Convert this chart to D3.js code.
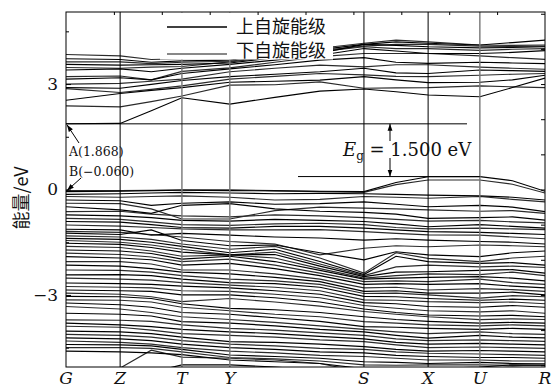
<!DOCTYPE html>
<html>
<head>
<meta charset="utf-8">
<script src="https://cdn.jsdelivr.net/npm/d3@7/dist/d3.min.js"></script>
<style>
  body { margin: 0; background: #fff; }
  svg { display: block; }
</style>
</head>
<body>
<svg id="chart"></svg>
<script>
// k-path: G Z (Z-T) T Y (Y-S) (Y-S) S (S-X) X U (U-R) R
const kPath = [0, 0.113, 0.178, 0.242, 0.342, 0.436, 0.530, 0.622, 0.689, 0.756, 0.864, 0.932, 1.0]
const kLabels = ["G", "Z", "T", "Y", "S", "X", "U", "R"]
const kLabelIndex = [0, 1, 3, 4, 7, 9, 10, 12]
const yTickLabels = [-3, 0, 3]
const yMinorTicks = [-4.5, -1.5, 1.5, 4.5]
const yRightTicks = [-5, -4, -3, -2, -1, 0, 1, 2, 3, 4, 5]

const cbmValue = 1.868
const vbmValue = 0.368
const gapValue = 1.500
const pointB = -0.060

// conduction bands, spin up
const conductionUp = [
    [1.87, 1.88, 2.24, 2.61, 2.43, 2.62, 2.80, 2.86, 2.78, 2.69, 2.64, 2.90, 3.17],
    [2.54, 2.73, 2.82, 2.90, 3.05, 3.08, 3.11, 3.21, 3.12, 3.04, 3.05, 3.12, 3.25],
    [2.90, 2.88, 2.99, 3.10, 3.21, 3.28, 3.35, 3.45, 3.32, 3.30, 3.40, 3.38, 3.36],
    [3.14, 3.18, 3.12, 3.30, 3.43, 3.55, 3.68, 3.75, 3.62, 3.59, 3.62, 3.60, 3.58],
    [3.40, 3.43, 3.35, 3.45, 3.56, 3.68, 3.82, 4.01, 3.94, 3.87, 3.87, 3.90, 3.95],
    [3.56, 3.54, 3.55, 3.56, 3.60, 3.75, 3.88, 4.13, 4.10, 4.06, 4.03, 4.04, 4.06],
    [3.72, 3.70, 3.62, 3.66, 3.68, 3.85, 3.98, 4.13, 4.20, 4.16, 4.11, 4.18, 4.25]
]
// conduction bands, spin down
const conductionDown = [
    [2.38, 2.35, 2.50, 2.66, 2.97, 2.98, 3.06, 2.88, 2.89, 2.90, 2.95, 2.92, 2.90],
    [2.87, 2.76, 2.85, 2.95, 3.14, 3.22, 3.30, 3.26, 3.22, 3.21, 3.25, 3.28, 3.30],
    [3.00, 3.02, 3.08, 3.14, 3.35, 3.45, 3.54, 3.49, 3.55, 3.55, 3.48, 3.45, 3.42],
    [3.21, 3.23, 3.12, 3.36, 3.46, 3.62, 3.78, 3.87, 3.87, 3.87, 3.80, 3.75, 3.70],
    [3.47, 3.45, 3.48, 3.50, 3.63, 3.78, 3.92, 4.06, 4.01, 4.01, 3.96, 3.99, 4.01],
    [3.63, 3.63, 3.58, 3.62, 3.65, 3.80, 3.95, 4.08, 4.13, 4.13, 4.08, 4.07, 4.08],
    [3.84, 3.80, 3.70, 3.72, 3.72, 3.88, 4.02, 4.16, 4.25, 4.20, 4.11, 4.10, 4.11]
]
// valence bands, spin up
const valenceUp = [
    [-0.06, -0.05, -0.03, -0.02, -0.03, -0.04, -0.05, -0.06, 0.20, 0.364, 0.368, 0.25, -0.05],
    [-0.14, -0.12, -0.10, -0.08, -0.10, -0.12, -0.11, -0.12, -0.14, -0.16, -0.18, -0.22, -0.30],
    [-0.30, -0.32, -0.45, -0.39, -0.35, -0.42, -0.40, -0.35, -0.42, -0.49, -0.45, -0.50, -0.63],
    [-0.49, -0.58, -0.68, -0.45, -0.40, -0.55, -0.62, -0.65, -0.70, -0.82, -0.80, -0.78, -0.87],
    [-0.72, -0.75, -0.80, -0.88, -0.90, -0.85, -0.88, -0.91, -0.98, -1.06, -1.00, -1.05, -1.10],
    [-0.91, -0.93, -1.00, -1.08, -1.10, -1.05, -1.05, -1.10, -1.15, -1.20, -1.22, -1.25, -1.28],
    [-1.13, -1.15, -1.30, -1.25, -1.30, -1.35, -1.38, -1.44, -1.40, -1.44, -1.48, -1.50, -1.55],
    [-1.24, -1.28, -1.15, -1.45, -1.60, -1.58, -1.80, -2.00, -1.77, -1.86, -1.91, -1.80, -1.75],
    [-1.39, -1.42, -1.50, -1.62, -1.80, -1.70, -2.05, -2.42, -1.90, -2.05, -2.10, -2.08, -2.15],
    [-1.53, -1.56, -1.65, -1.78, -1.86, -1.85, -2.18, -2.48, -2.35, -2.34, -2.30, -2.28, -2.38],
    [-1.72, -1.75, -1.82, -1.98, -1.90, -2.05, -2.30, -2.55, -2.52, -2.50, -2.48, -2.52, -2.60],
    [-1.91, -1.95, -2.00, -2.15, -2.10, -2.25, -2.45, -2.70, -2.68, -2.70, -2.68, -2.75, -2.80],
    [-2.15, -2.18, -2.25, -2.35, -2.40, -2.50, -2.62, -2.90, -2.88, -2.95, -2.95, -2.92, -3.00],
    [-2.43, -2.42, -2.45, -2.55, -2.65, -2.68, -2.78, -3.04, -3.05, -3.10, -3.15, -3.12, -3.15],
    [-2.66, -2.68, -2.70, -2.75, -2.80, -2.88, -2.98, -3.22, -3.25, -3.33, -3.35, -3.30, -3.35],
    [-2.86, -2.88, -2.90, -3.00, -3.00, -3.08, -3.20, -3.40, -3.50, -3.57, -3.60, -3.58, -3.62],
    [-3.04, -3.05, -3.10, -3.25, -3.38, -3.42, -3.50, -3.62, -3.70, -3.75, -3.80, -3.78, -3.80],
    [-3.23, -3.28, -3.35, -3.50, -3.55, -3.65, -3.75, -3.90, -3.92, -3.95, -3.98, -3.95, -3.98],
    [-3.52, -3.55, -3.60, -3.76, -3.80, -3.88, -3.98, -4.05, -4.15, -4.23, -4.15, -4.20, -4.22],
    [-3.80, -3.85, -3.90, -3.98, -4.05, -4.10, -4.18, -4.25, -4.35, -4.40, -4.38, -4.40, -4.42],
    [-4.03, -4.05, -4.10, -4.20, -4.33, -4.35, -4.40, -4.47, -4.55, -4.60, -4.58, -4.60, -4.62],
    [-4.22, -4.25, -4.30, -4.40, -4.50, -4.55, -4.62, -4.65, -4.72, -4.75, -4.78, -4.78, -4.80],
    [-4.41, -4.42, -4.45, -4.55, -4.71, -4.75, -4.80, -4.90, -4.92, -4.95, -4.92, -4.95, -4.96],
    [-4.60, -4.62, -4.65, -4.70, -4.85, -4.90, -4.95, -5.10, -5.10, -5.10, -5.05, -4.99, -5.00],
    [-5.60, -5.40, -5.20, -4.99, -4.99, -5.05, -5.15, -5.30, -5.30, -5.25, -5.20, -5.15, -5.20]
]
// valence bands, spin down
const valenceDown = [
    [-0.03, -0.03, -0.02, -0.01, -0.01, -0.03, -0.06, -0.08, 0.14, 0.27, 0.27, 0.15, -0.10],
    [-0.20, -0.22, -0.20, -0.18, -0.22, -0.30, -0.28, -0.20, -0.22, -0.25, -0.20, -0.28, -0.35],
    [-0.39, -0.40, -0.55, -0.84, -0.84, -0.60, -0.50, -0.53, -0.55, -0.58, -0.62, -0.60, -0.68],
    [-0.63, -0.62, -0.70, -0.75, -0.78, -0.72, -0.75, -0.80, -0.85, -0.90, -0.88, -0.92, -0.95],
    [-0.82, -0.85, -0.92, -1.00, -1.02, -0.98, -0.96, -1.00, -1.08, -1.12, -1.10, -1.12, -1.14],
    [-1.01, -1.04, -1.08, -1.12, -1.15, -1.15, -1.14, -1.20, -1.25, -1.29, -1.30, -1.35, -1.40],
    [-1.19, -1.22, -1.28, -1.35, -1.48, -1.55, -1.86, -1.67, -1.60, -1.63, -1.58, -1.60, -1.63],
    [-1.32, -1.35, -1.42, -1.55, -1.70, -1.62, -1.95, -2.38, -1.80, -1.96, -2.05, -1.95, -1.90],
    [-1.45, -1.50, -1.58, -1.70, -1.86, -1.78, -2.12, -2.45, -2.20, -2.15, -2.20, -2.18, -2.22],
    [-1.62, -1.65, -1.75, -1.90, -1.86, -1.95, -2.25, -2.52, -2.45, -2.40, -2.42, -2.35, -2.45],
    [-1.81, -1.85, -1.92, -2.05, -1.98, -2.15, -2.38, -2.62, -2.60, -2.62, -2.55, -2.65, -2.70],
    [-2.05, -2.05, -2.12, -2.29, -2.29, -2.40, -2.55, -2.80, -2.78, -2.86, -2.82, -2.85, -2.90],
    [-2.29, -2.30, -2.35, -2.45, -2.55, -2.60, -2.70, -2.96, -2.95, -3.00, -3.09, -3.02, -3.05],
    [-2.52, -2.55, -2.58, -2.65, -2.72, -2.78, -2.88, -3.14, -3.15, -3.19, -3.22, -3.20, -3.25],
    [-2.76, -2.78, -2.80, -2.88, -2.90, -2.98, -3.08, -3.30, -3.38, -3.45, -3.48, -3.45, -3.52],
    [-2.95, -2.98, -3.05, -3.19, -3.10, -3.20, -3.32, -3.47, -3.55, -3.62, -3.70, -3.68, -3.70],
    [-3.14, -3.15, -3.20, -3.35, -3.45, -3.55, -3.62, -3.76, -3.80, -3.85, -3.88, -3.85, -3.88],
    [-3.33, -3.40, -3.50, -3.62, -3.70, -3.78, -3.88, -3.98, -4.05, -4.10, -4.05, -4.10, -4.12],
    [-3.71, -3.72, -3.75, -3.85, -3.95, -4.00, -4.08, -4.15, -4.25, -4.30, -4.28, -4.30, -4.32],
    [-3.89, -3.92, -4.00, -4.10, -4.15, -4.20, -4.28, -4.33, -4.42, -4.50, -4.48, -4.50, -4.52],
    [-4.12, -4.15, -4.20, -4.30, -4.40, -4.45, -4.52, -4.55, -4.62, -4.66, -4.68, -4.70, -4.72],
    [-4.31, -4.35, -4.40, -4.50, -4.60, -4.65, -4.72, -4.75, -4.80, -4.85, -4.85, -4.88, -4.88],
    [-4.50, -4.50, -4.52, -4.62, -4.78, -4.82, -4.88, -4.99, -5.00, -4.99, -4.99, -5.00, -5.00],
    [-5.40, -5.08, -4.57, -4.77, -4.80, -4.85, -4.95, -5.20, -5.20, -5.15, -5.10, -5.05, -5.10]
]

const legendItems = ["上自旋能级", "下自旋能级"]

let width = 552
let height = 389
let margin = { top: 12, right: 7, bottom: 22, left: 66 }
let plotRight = width - margin.right
let plotBottom = height - margin.bottom
let serif = "DejaVu Serif, Liberation Serif, serif"

let svg = d3.select("#chart")
    .attr("width", width)
    .attr("height", height)

let xScale = d3.scaleLinear()
    .domain([0, 1])
    .range([margin.left, plotRight])

let yScale = d3.scaleLinear()
    .domain([-5.05, 5.05])
    .range([plotBottom, margin.top])

let defs = svg.append("defs")
defs.append("clipPath")
    .attr("id", "plot-clip")
    .append("rect")
    .attr("x", margin.left)
    .attr("y", margin.top)
    .attr("width", plotRight - margin.left)
    .attr("height", plotBottom - margin.top)

let line = d3.line()
    .x((d, i) => xScale(kPath[i]))
    .y(d => yScale(d))

let body = svg.append("g").attr("clip-path", "url(#plot-clip)")

// spin down first, spin up on top
body.selectAll(".band-down")
    .data(conductionDown.concat(valenceDown))
    .enter()
    .append("path")
    .attr("class", "band-down")
    .attr("d", line)
    .attr("fill", "none")
    .attr("stroke", "#2a2a2a")
    .attr("stroke-width", 1.15)

body.selectAll(".band-up")
    .data(conductionUp.concat(valenceUp))
    .enter()
    .append("path")
    .attr("class", "band-up")
    .attr("d", line)
    .attr("fill", "none")
    .attr("stroke", "#000")
    .attr("stroke-width", 1.15)

// high symmetry lines
let greyPoints = ["T", "Y", "U"]
svg.selectAll(".kline")
    .data(kLabels.slice(1, -1))
    .enter()
    .append("line")
    .attr("class", "kline")
    .attr("x1", d => xScale(kPath[kLabelIndex[kLabels.indexOf(d)]]))
    .attr("x2", d => xScale(kPath[kLabelIndex[kLabels.indexOf(d)]]))
    .attr("y1", margin.top)
    .attr("y2", plotBottom)
    .attr("stroke", d => greyPoints.includes(d) ? "#777" : "#000")
    .attr("stroke-width", d => greyPoints.includes(d) ? 1.4 : 1)

// gap guide lines
svg.append("line")
    .attr("x1", margin.left).attr("x2", 467)
    .attr("y1", yScale(cbmValue)).attr("y2", yScale(cbmValue))
    .attr("stroke", "#000").attr("stroke-width", 1)

svg.append("line")
    .attr("x1", 298).attr("x2", xScale(kPath[10]))
    .attr("y1", yScale(vbmValue)).attr("y2", yScale(vbmValue))
    .attr("stroke", "#000").attr("stroke-width", 1)

// legend box
svg.append("rect")
    .attr("x", 160).attr("y", margin.top + 0.5)
    .attr("width", 173).attr("height", 47)
    .attr("fill", "#fff")

let legend = svg.append("g")
legend.selectAll("line")
    .data(legendItems)
    .enter()
    .append("line")
    .attr("x1", 167).attr("x2", 227)
    .attr("y1", (d, i) => 27 + i * 27)
    .attr("y2", (d, i) => 27 + i * 27)
    .attr("stroke", (d, i) => i === 0 ? "#000" : "#888")
    .attr("stroke-width", (d, i) => i === 0 ? 1.3 : 2)

legend.selectAll("text")
    .data(legendItems)
    .enter()
    .append("text")
    .attr("x", 236)
    .attr("y", (d, i) => 27 + i * 24)
    .attr("dy", "0.36em")
    .attr("font-family", "Noto Sans CJK SC")
    .attr("font-size", 18)
    .attr("fill", "#111")
    .text(d => d)

// frame
svg.append("rect")
    .attr("x", margin.left).attr("y", margin.top)
    .attr("width", plotRight - margin.left)
    .attr("height", plotBottom - margin.top)
    .attr("fill", "none")
    .attr("stroke", "#000")
    .attr("stroke-width", 1)

// axes
let yAxis = d3.axisLeft(yScale)
    .tickValues(yTickLabels)
    .tickSize(-5)
    .tickPadding(8)
    .tickFormat(d => d < 0 ? "\u2212" + Math.abs(d) : d)

let yAxisG = svg.append("g")
    .attr("transform", `translate(${margin.left},0)`)
    .call(yAxis)
yAxisG.select(".domain").remove()
yAxisG.selectAll("text")
    .attr("font-family", serif)
    .attr("font-size", 17)
    .attr("fill", "#111")

let yMinor = svg.append("g")
    .attr("transform", `translate(${margin.left},0)`)
    .call(d3.axisLeft(yScale).tickValues(yMinorTicks).tickSize(-3).tickFormat(""))
yMinor.select(".domain").remove()

let yRight = svg.append("g")
    .attr("transform", `translate(${plotRight},0)`)
    .call(d3.axisRight(yScale).tickValues(yRightTicks).tickSize(-4).tickFormat(""))
yRight.select(".domain").remove()

let xTop = svg.append("g")
    .attr("transform", `translate(0,${margin.top})`)
    .call(d3.axisTop(xScale).tickValues(d3.range(1, 10).map(d => d / 10)).tickSize(-3).tickFormat(""))
xTop.select(".domain").remove()

svg.selectAll(".klabel")
    .data(kLabels)
    .enter()
    .append("text")
    .attr("class", "klabel")
    .attr("x", (d, i) => xScale(kPath[kLabelIndex[i]]))
    .attr("y", 384)
    .attr("text-anchor", "middle")
    .attr("font-family", serif)
    .attr("font-style", "italic")
    .attr("font-size", 17)
    .attr("fill", "#111")
    .text(d => d)

svg.append("text")
    .attr("transform", `translate(28,198) rotate(-90)`)
    .attr("text-anchor", "middle")
    .attr("font-family", "Noto Sans CJK SC")
    .attr("font-size", 18)
    .attr("fill", "#111")
    .text("能量/eV")

// arrow marker
defs.append("marker")
    .attr("id", "arrow")
    .attr("viewBox", "0 0 10 10")
    .attr("refX", 10).attr("refY", 5)
    .attr("markerWidth", 7).attr("markerHeight", 7)
    .attr("markerUnits", "userSpaceOnUse")
    .attr("orient", "auto")
    .append("path")
    .attr("d", "M0,1.5 L10,5 L0,8.5 Z")
    .attr("fill", "#000")

let annotations = svg.append("g")
    .attr("stroke", "#000")
    .attr("stroke-width", 1)

annotations.append("line")
    .attr("x1", 79).attr("y1", 143)
    .attr("x2", xScale(0) + 1).attr("y2", yScale(cbmValue) + 1)
    .attr("marker-end", "url(#arrow)")

annotations.append("line")
    .attr("x1", 81).attr("y1", 178)
    .attr("x2", xScale(0) + 1).attr("y2", yScale(pointB) - 1)
    .attr("marker-end", "url(#arrow)")

annotations.append("line")
    .attr("x1", 390).attr("y1", 141)
    .attr("x2", 390).attr("y2", yScale(cbmValue))
    .attr("marker-end", "url(#arrow)")

annotations.append("line")
    .attr("x1", 390).attr("y1", 158)
    .attr("x2", 390).attr("y2", yScale(vbmValue))
    .attr("marker-end", "url(#arrow)")

svg.append("text")
    .attr("x", 69).attr("y", 156)
    .attr("font-family", serif)
    .attr("font-size", 12.5)
    .attr("fill", "#111")
    .text(`A(${cbmValue.toFixed(3)})`)

svg.append("text")
    .attr("x", 69).attr("y", 176)
    .attr("font-family", serif)
    .attr("font-size", 12.5)
    .attr("fill", "#111")
    .text(`B(\u2212${Math.abs(pointB).toFixed(3)})`)

let egText = svg.append("text")
    .attr("x", 343).attr("y", 156)
    .attr("font-family", serif)
    .attr("font-size", 18)
    .attr("fill", "#111")

egText.append("tspan").attr("font-style", "italic").text("E")
egText.append("tspan").attr("font-size", 12).attr("dy", 4).text("g")
egText.append("tspan").attr("dy", -4).text(` = ${gapValue.toFixed(3)} eV`)
</script>
</body>
</html>
